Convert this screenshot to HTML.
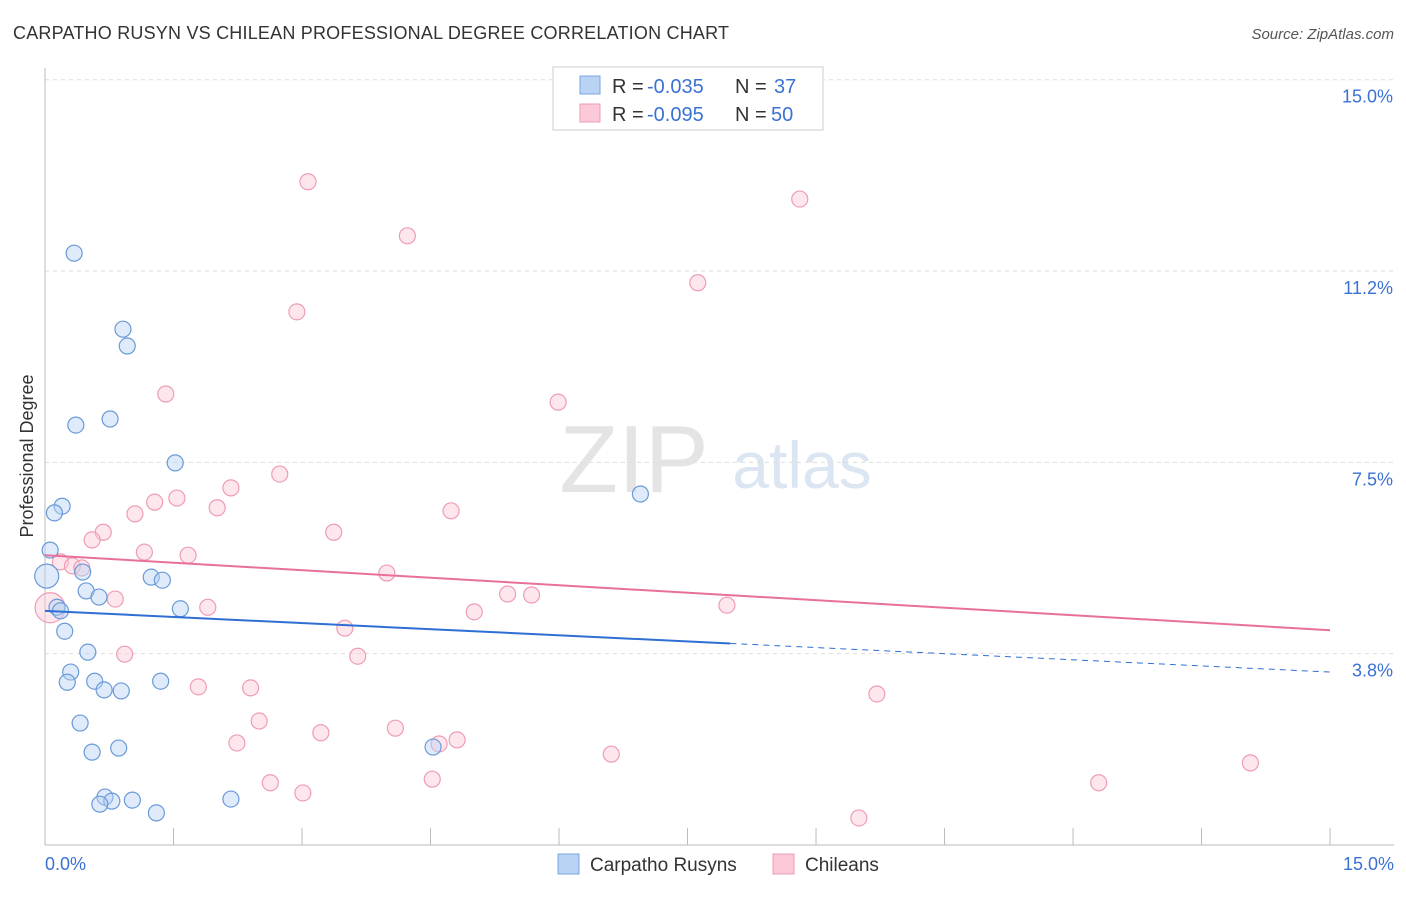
<!DOCTYPE html>
<html><head><meta charset="utf-8"><style>
body{margin:0;background:#fff;font-family:"Liberation Sans",sans-serif}
svg text{font-family:"Liberation Sans",sans-serif}
</style></head><body>
<svg id="c" width="1406" height="892" viewBox="0 0 1406 892">
<text x="13" y="39" font-size="18" fill="#333" textLength="716">CARPATHO RUSYN VS CHILEAN PROFESSIONAL DEGREE CORRELATION CHART</text>
<text x="1394" y="39" font-size="15" fill="#555" font-style="italic" text-anchor="end">Source: ZipAtlas.com</text>
<text x="634" y="492" font-size="96" fill="#e4e4e4" font-family="Liberation Serif" text-anchor="middle">ZIP</text>
<text x="802" y="488" font-size="66" fill="#dce6f3" text-anchor="middle">atlas</text>
<text transform="translate(33,456) rotate(-90)" font-size="18" fill="#333" text-anchor="middle">Professional Degree</text>
<g id="grid"></g><g id="pts"></g><g id="lines"></g>
<g>
<rect x="553" y="67" width="270" height="63" fill="#fff" stroke="#ccc"/>
<rect x="580" y="76" width="20" height="18" fill="#b9d3f5" stroke="#7aa6e0"/>
<rect x="580" y="104" width="20" height="18" fill="#fbc9d8" stroke="#ee9cb4"/>
<text x="612" y="93" font-size="20" fill="#333">R =</text>
<text x="647" y="93" font-size="20" fill="#3a72d4">-0.035</text>
<text x="735" y="93" font-size="20" fill="#333">N =</text>
<text x="774" y="93" font-size="20" fill="#3a72d4">37</text>
<text x="612" y="121" font-size="20" fill="#333">R =</text>
<text x="647" y="121" font-size="20" fill="#3a72d4">-0.095</text>
<text x="735" y="121" font-size="20" fill="#333">N =</text>
<text x="771" y="121" font-size="20" fill="#3a72d4">50</text>
</g>
<g>
<rect x="558" y="854" width="21" height="20" fill="#b9d3f5" stroke="#7aa6e0"/>
<text x="590" y="871" font-size="19" fill="#333">Carpatho Rusyns</text>
<rect x="773" y="854" width="21" height="20" fill="#fbc9d8" stroke="#ee9cb4"/>
<text x="805" y="871" font-size="19" fill="#333">Chileans</text>
</g>
<text x="45" y="870" font-size="18" fill="#3a72d4">0.0%</text>
<text x="1394" y="870" font-size="18" fill="#3a72d4" text-anchor="end">15.0%</text>
</svg>
<script>
const blueX=[0.34,0.91,0.96,0.36,0.76,1.52,0.20,0.11,0.06,0.02,0.44,1.24,1.37,0.48,0.63,0.14,0.18,1.58,0.23,0.50,0.30,0.26,0.58,0.69,0.89,1.35,0.41,0.55,0.86,4.53,0.70,0.78,0.64,1.02,1.30,2.17,6.95];
const blueY=[11.60,10.11,9.78,8.23,8.35,7.49,6.64,6.51,5.78,5.27,5.35,5.25,5.19,4.98,4.86,4.66,4.59,4.63,4.19,3.78,3.39,3.19,3.21,3.04,3.02,3.21,2.39,1.82,1.90,1.92,0.94,0.86,0.80,0.88,0.63,0.90,6.88];
const pinkX=[3.07,8.81,4.23,7.62,2.94,1.41,5.99,2.74,2.17,1.54,1.28,2.01,1.05,4.74,0.68,3.37,0.55,1.16,1.67,0.18,0.32,0.43,3.99,0.82,5.40,5.68,1.90,5.01,7.96,0.06,3.50,0.93,3.65,1.79,2.40,9.71,2.50,4.09,3.22,2.24,4.60,4.81,6.61,2.63,3.01,4.52,14.07,12.30,9.50,6.64];
const pinkY=[13.00,12.66,11.94,11.02,10.45,8.84,8.68,7.27,7.00,6.80,6.72,6.61,6.49,6.55,6.13,6.13,5.98,5.74,5.68,5.55,5.47,5.43,5.33,4.82,4.92,4.90,4.66,4.57,4.70,4.65,4.25,3.74,3.70,3.10,3.08,2.96,2.43,2.29,2.20,2.00,1.98,2.06,1.78,1.22,1.02,1.29,1.61,1.22,0.53,14.88];
const yTicks=[3.8,7.5,11.2,15.0];
const yTickLabels=["3.8%","7.5%","11.2%","15.0%"];
const blueTrend=[4.59,3.39];
const pinkTrend=[5.68,4.21];
const blueSolidEnd=8.0;
const NS="http://www.w3.org/2000/svg";
const X=v=>45+v*85.67, Y=v=>845-v*51.02;
function mk(tag,parent,attrs){const e=document.createElementNS(NS,tag);for(const k in attrs)e.setAttribute(k,attrs[k]);parent.appendChild(e);return e;}
const grid=document.getElementById('grid'),pts=document.getElementById('pts'),lines=document.getElementById('lines');
yTicks.forEach((t,i)=>{const yy=Y(t===3.8?3.75:t===11.2?11.25:t);
const l=mk('line',grid,{x1:45,x2:1394,y1:yy,y2:yy,stroke:'#ddd','stroke-dasharray':'4,4'});


const tx=mk('text',grid,{x:1393,y:yy+23,'font-size':18,fill:'#3a72d4','text-anchor':'end'});tx.textContent=yTickLabels[i];

});
const ax=mk('line',grid,{x1:45,x2:45,y1:68,y2:845,stroke:'#bbb'});


const bx=mk('line',grid,{x1:45,x2:1394,y1:845,y2:845,stroke:'#bbb'});


for(let i=1;i<=10;i++){const tk=mk('line',grid,{x1:X(i*1.5),x2:X(i*1.5),y1:828,y2:845,stroke:'#bbb'});

}
function dots(xs,ys,fill,stroke,name){xs.forEach((x,i)=>{const r=(i===9&&name==='blue-point')?12:(i===29&&name==='pink-point')?15:8;
const c=mk('circle',pts,{cx:X(x),cy:Y(ys[i]),r:r,fill:fill,'fill-opacity':0.45,stroke:stroke,'stroke-width':1.2});

});}
dots(pinkX,pinkY,'#fbc9d8','#ee9cb4','pink-point');
dots(blueX,blueY,'#b9d3f5','#6a9ad8','blue-point');
const yb=x=>blueTrend[0]+(blueTrend[1]-blueTrend[0])*x/15;
const l1=mk('line',lines,{x1:X(0),y1:Y(yb(0)),x2:X(blueSolidEnd),y2:Y(yb(blueSolidEnd)),stroke:'#2f6fd4','stroke-width':2});


const l2=mk('line',lines,{x1:X(blueSolidEnd),y1:Y(yb(blueSolidEnd)),x2:X(15),y2:Y(yb(15)),stroke:'#2f6fd4','stroke-width':1,'stroke-dasharray':'6,5'});


const l3=mk('line',lines,{x1:X(0),y1:Y(pinkTrend[0]),x2:X(15),y2:Y(pinkTrend[1]),stroke:'#e8709a','stroke-width':2});


</script>
</body></html>
